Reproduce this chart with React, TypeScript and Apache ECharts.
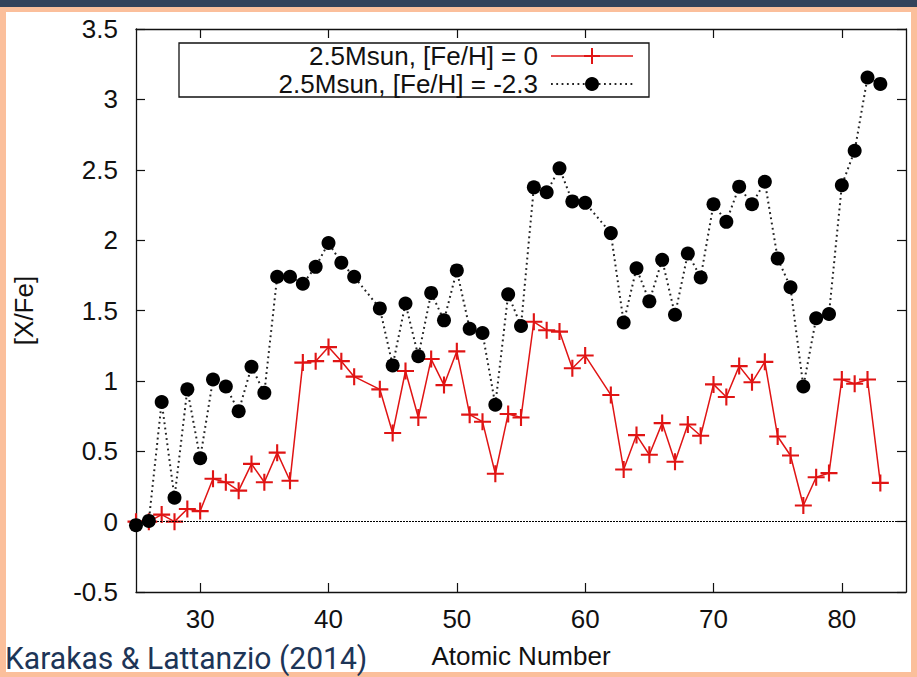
import React, { useEffect, useRef } from "react";
import * as echarts from "echarts";

// Atomic numbers (Tc = 43 and Pm = 61 are absent)
const atomicNumbers = [
  25, 26, 27, 28, 29, 30, 31, 32, 33, 34, 35, 36, 37, 38, 39, 40, 41, 42,
  44, 45, 46, 47, 48, 49, 50, 51, 52, 53, 54, 55, 56, 57, 58, 59, 60,
  62, 63, 64, 65, 66, 67, 68, 69, 70, 71, 72, 73, 74, 75, 76, 77, 78, 79, 80, 81, 82, 83,
];

// [X/Fe] for 2.5 Msun, [Fe/H] = 0
const solarValues = [
  0.0, 0.0, 0.05, 0.0, 0.09, 0.075, 0.305, 0.28, 0.22, 0.41, 0.28, 0.49, 0.29, 1.13, 1.14, 1.24, 1.14, 1.03,
  0.94, 0.63, 1.07, 0.74, 1.155, 0.97, 1.21, 0.76, 0.71, 0.34, 0.765, 0.74, 1.42, 1.36, 1.35, 1.09, 1.18,
  0.9, 0.37, 0.615, 0.475, 0.7, 0.425, 0.69, 0.61, 0.975, 0.885, 1.105, 0.99, 1.135, 0.605, 0.47, 0.115, 0.315, 0.345, 1.01, 0.98, 1.01, 0.275,
];

// [X/Fe] for 2.5 Msun, [Fe/H] = -2.3
const metalPoorValues = [
  -0.025, 0.005, 0.85, 0.17, 0.94, 0.45, 1.01, 0.96, 0.785, 1.1, 0.915, 1.74, 1.74, 1.69, 1.81, 1.98, 1.84, 1.74,
  1.515, 1.11, 1.55, 1.175, 1.625, 1.43, 1.785, 1.37, 1.34, 0.83, 1.615, 1.39, 2.375, 2.34, 2.51, 2.275, 2.265,
  2.05, 1.415, 1.8, 1.565, 1.86, 1.47, 1.905, 1.735, 2.255, 2.13, 2.38, 2.255, 2.415, 1.87, 1.665, 0.96, 1.445, 1.475, 2.39, 2.635, 3.155, 3.11,
];

const xTickValues = [30, 40, 50, 60, 70, 80];
const seriesNames = ["2.5Msun, [Fe/H] = 0", "2.5Msun, [Fe/H] = -2.3"];
const xAxisTitle = "Atomic Number";
const yAxisTitle = "[X/Fe]";
const creditText = "Karakas & Lattanzio (2014)";

const FONT = '"Liberation Sans", Arial, sans-serif';
const RED = "#e01414";
const PLUS = "path://M7,0H9V7H16V9H9V16H7V9H0V7H7Z";

export default function App() {
  const ref = useRef<HTMLDivElement>(null);

  useEffect(() => {
    if (!ref.current) return;
    const chart = echarts.init(ref.current, undefined, { renderer: "svg" });

    const solarData = atomicNumbers.map((z, i) => [z, solarValues[i]]);
    const poorData = atomicNumbers.map((z, i) => [z, metalPoorValues[i]]);

    const axisLine = { show: true, onZero: false, lineStyle: { color: "#111", width: 1.3 } };
    const tick = { show: true, inside: true, length: 9, lineStyle: { color: "#111", width: 1.2 } };
    const labelStyle = { color: "#111", fontFamily: FONT, fontSize: 26 };

    const lx = 179, ly = 43, lw = 470, lh = 54;
    const textRight = 538, lineL = 551, lineR = 633, mid = 592;
    const row1 = 56, row2 = 84;

    chart.setOption({
      animation: false,
      grid: { left: 136, right: 11, top: 29, bottom: 85, containLabel: false },
      xAxis: [
        {
          type: "value",
          min: 25,
          max: 85,
          position: "bottom",
          name: xAxisTitle,
          nameLocation: "middle",
          nameGap: 51,
          nameTextStyle: { ...labelStyle },
          axisLine,
          axisTick: { ...tick, customValues: xTickValues },
          axisLabel: { ...labelStyle, margin: 14, customValues: xTickValues },
          splitLine: { show: false },
        },
        {
          type: "value",
          min: 25,
          max: 85,
          position: "top",
          axisLine,
          axisTick: { ...tick, customValues: xTickValues },
          axisLabel: { show: false },
          splitLine: { show: false },
        },
      ],
      yAxis: [
        {
          type: "value",
          min: -0.5,
          max: 3.5,
          interval: 0.5,
          position: "left",
          name: yAxisTitle,
          nameLocation: "middle",
          nameGap: 99,
          nameRotate: 90,
          nameTextStyle: { ...labelStyle },
          axisLine,
          axisTick: tick,
          axisLabel: { ...labelStyle, margin: 18 },
          splitLine: { show: false },
        },
        {
          type: "value",
          min: -0.5,
          max: 3.5,
          interval: 0.5,
          position: "right",
          axisLine,
          axisTick: tick,
          axisLabel: { show: false },
          splitLine: { show: false },
        },
      ],
      series: [
        {
          name: seriesNames[0],
          type: "line",
          data: solarData,
          symbol: PLUS,
          symbolSize: 17,
          showAllSymbol: true,
          itemStyle: { color: RED },
          lineStyle: { color: RED, width: 1.5 },
          markLine: {
            silent: true,
            symbol: ["none", "none"],
            label: { show: false },
            lineStyle: { color: "#000", width: 1, type: [2, 1] },
            data: [{ yAxis: 0 }],
          },
          z: 3,
        },
        {
          name: seriesNames[1],
          type: "line",
          data: poorData,
          symbol: "circle",
          symbolSize: 14,
          showAllSymbol: true,
          itemStyle: { color: "#000" },
          lineStyle: { color: "#222", width: 2, type: [1.8, 3.5] },
          z: 4,
        },
      ],
      graphic: [
        {
          type: "rect",
          shape: { x: lx, y: ly, width: lw, height: lh },
          style: { fill: "#fff", stroke: "#111", lineWidth: 1.3 },
          z: 10,
        },
        {
          type: "text",
          style: { text: seriesNames[0], x: textRight, y: row1, align: "right", verticalAlign: "middle", fontSize: 26, fontFamily: FONT, fill: "#111" },
          z: 11,
        },
        {
          type: "text",
          style: { text: seriesNames[1], x: textRight, y: row2, align: "right", verticalAlign: "middle", fontSize: 26, fontFamily: FONT, fill: "#111" },
          z: 11,
        },
        { type: "line", shape: { x1: lineL, y1: row1, x2: lineR, y2: row1 }, style: { stroke: RED, lineWidth: 1.5 }, z: 11 },
        { type: "line", shape: { x1: mid, y1: row1 - 8, x2: mid, y2: row1 + 8 }, style: { stroke: RED, lineWidth: 2 }, z: 11 },
        { type: "line", shape: { x1: mid - 8, y1: row1, x2: mid + 8, y2: row1 }, style: { stroke: RED, lineWidth: 2 }, z: 11 },
        { type: "line", shape: { x1: lineL, y1: row2, x2: lineR, y2: row2 }, style: { stroke: "#222", lineWidth: 2, lineDash: [1.8, 3.5] }, z: 11 },
        { type: "circle", shape: { cx: mid, cy: row2, r: 7 }, style: { fill: "#000" }, z: 11 },
        {
          type: "text",
          x: 5,
          y: 658,
          scaleX: 0.94,
          style: { text: creditText, x: 0, y: 0, align: "left", verticalAlign: "middle", fontSize: 32, fontFamily: "Roboto, sans-serif", fill: "#1d3557" },
          z: 11,
        },
      ],
    });

    return () => chart.dispose();
  }, []);

  return (
    <div style={{ position: "absolute", left: 0, top: 0, width: 917, height: 677, background: "#fbbf9b", overflow: "hidden" }}>
      <div style={{ position: "absolute", left: 0, top: 0, width: 917, height: 7, background: "#33435b" }} />
      <div style={{ position: "absolute", left: 6, top: 12, width: 905, height: 660, background: "#ffffff" }} />
      <div ref={ref} style={{ position: "absolute", left: 0, top: 0, width: 917, height: 677 }} />
    </div>
  );
}
